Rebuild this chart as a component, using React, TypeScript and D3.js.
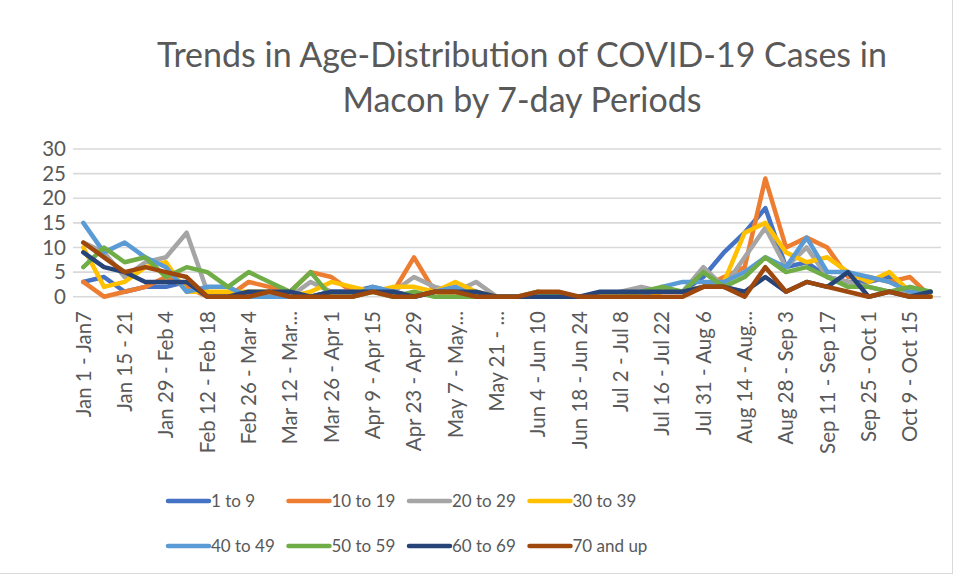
import React from "react";
import * as d3 from "d3";

// weekly periods (every other one is labelled on the axis)
const periods = [
  "Jan 1 - Jan7", "Jan 8 - 14", "Jan 15 - 21", "Jan 22 - 28", "Jan 29 - Feb 4",
  "Feb 5 - Feb 11", "Feb 12 - Feb 18", "Feb 19 - Feb 25", "Feb 26 - Mar 4", "Mar 5 - Mar 11",
  "Mar 12 - Mar...", "Mar 19 - Mar 25", "Mar 26 - Apr 1", "Apr 2 - Apr 8", "Apr 9 - Apr 15",
  "Apr 16 - Apr 22", "Apr 23 - Apr 29", "Apr 30 - May 6", "May 7 - May...", "May 14 - May 20",
  "May 21 - ...", "May 28 - Jun 3", "Jun 4 - Jun 10", "Jun 11 - Jun 17", "Jun 18 - Jun 24",
  "Jun 25 - Jul 1", "Jul 2 - Jul 8", "Jul 9 - Jul 15", "Jul 16 - Jul 22", "Jul 24 - Jul 30",
  "Jul 31 - Aug 6", "Aug 7 - Aug 13", "Aug 14 - Aug...", "Aug 21 - Aug 27", "Aug 28 - Sep 3",
  "Sep 4 - Sep 10", "Sep 11 - Sep 17", "Sep 18 - Sep 24", "Sep 25 - Oct 1", "Oct 2 - Oct 8",
  "Oct 9 - Oct 15", "Oct 16 - Oct 22",
];

const ages1to9 = [3, 4, 1, 2, 2, 3, 0, 0, 0, 1, 0, 0, 1, 1, 2, 1, 0, 1, 1, 0, 0, 0, 0, 0, 0, 0, 0, 1, 1, 1, 4, 9, 13, 18, 6, 7, 4, 3, 3, 4, 1, 1];
const ages10to19 = [3, 0, 1, 2, 4, 2, 0, 0, 3, 2, 1, 5, 4, 1, 1, 1, 8, 1, 0, 0, 0, 0, 0, 0, 0, 0, 0, 0, 1, 1, 2, 4, 6, 24, 10, 12, 10, 4, 4, 3, 4, 0];
const ages20to29 = [11, 9, 4, 7, 8, 13, 1, 0, 0, 0, 0, 3, 1, 0, 1, 1, 4, 2, 1, 3, 0, 0, 0, 0, 0, 0, 1, 2, 1, 1, 6, 2, 8, 14, 6, 10, 4, 3, 2, 1, 1, 0];
const ages30to39 = [10, 2, 3, 6, 7, 1, 1, 1, 1, 1, 0, 1, 3, 2, 1, 2, 2, 1, 3, 1, 0, 0, 0, 0, 0, 0, 0, 0, 1, 1, 2, 3, 13, 15, 9, 7, 8, 5, 3, 5, 1, 0];
const ages40to49 = [15, 9, 11, 8, 6, 1, 2, 2, 0, 0, 0, 0, 0, 0, 2, 1, 0, 1, 2, 0, 0, 0, 0, 0, 0, 0, 0, 0, 2, 3, 3, 3, 5, 8, 6, 12, 5, 5, 4, 3, 1, 1];
const ages50to59 = [6, 10, 7, 8, 4, 6, 5, 2, 5, 3, 1, 5, 0, 0, 1, 0, 1, 0, 0, 0, 0, 0, 1, 0, 0, 0, 0, 1, 2, 1, 5, 2, 4, 8, 5, 6, 4, 2, 2, 1, 2, 1];
const ages60to69 = [9, 6, 5, 3, 3, 3, 0, 0, 1, 1, 1, 0, 1, 1, 1, 1, 0, 1, 1, 1, 0, 0, 0, 0, 0, 1, 1, 1, 1, 1, 2, 2, 1, 4, 1, 3, 2, 5, 0, 1, 0, 1];
const ages70up = [11, 8, 5, 6, 5, 4, 0, 0, 0, 1, 0, 0, 0, 0, 1, 0, 0, 1, 1, 0, 0, 0, 1, 1, 0, 0, 0, 0, 0, 0, 2, 2, 0, 6, 1, 3, 2, 1, 0, 1, 0, 0];

const seriesNames = ["1 to 9", "10 to 19", "20 to 29", "30 to 39", "40 to 49", "50 to 59", "60 to 69", "70 and up"];
const seriesValues = [ages1to9, ages10to19, ages20to29, ages30to39, ages40to49, ages50to59, ages60to69, ages70up];
const colors = ["#4472C4", "#ED7D31", "#A5A5A5", "#FFC000", "#5B9BD5", "#70AD47", "#264478", "#9E480E"];

const yTicks = [0, 5, 10, 15, 20, 25, 30];
const titleLines = ["Trends in Age-Distribution of COVID-19 Cases in", "Macon by 7-day Periods"];

const W = 956;
const H = 576;
const plot = { left: 73, right: 941, top: 149, bottom: 296.7 };
const FONT = "Lato, 'Open Sans', sans-serif";
const TEXT = "#595959";

const App = () => {
  const x = d3.scaleBand<string>().domain(periods).range([plot.left, plot.right]);
  const cx = (i: number) => (x(periods[i]) as number) + x.bandwidth() / 2;
  const y = d3.scaleLinear().domain([0, 30]).range([plot.bottom, plot.top]);

  const line = d3
    .line<number>()
    .x((_, i) => cx(i))
    .y((d) => y(d));

  // legend: two rows of four
  const legendX = (k: number) => 168 + (k % 4) * 120.5;
  const legendY = (k: number) => (k < 4 ? 501 : 546);

  return (
    <svg
      width={W}
      height={H}
      style={{ position: "absolute", left: 0, top: 0, background: "#fff" }}
      fontFamily={FONT}
    >
      <rect x={0} y={0} width={W} height={H} fill="#fff" />
      <line x1={952.5} x2={952.5} y1={0} y2={574} stroke="#D9D9D9" />
      <line x1={0} x2={953} y1={573.5} y2={573.5} stroke="#D9D9D9" />

      {/* title */}
      {titleLines.map((t, i) => (
        <text key={t} x={522} y={67 + i * 45} textAnchor="middle" fontSize={34} fill={TEXT}>
          {t}
        </text>
      ))}

      {/* grid lines */}
      {yTicks.map((t) => (
        <line
          key={t}
          x1={plot.left}
          x2={plot.right}
          y1={y(t)}
          y2={y(t)}
          stroke="#D9D9D9"
          strokeWidth={1.6}
        />
      ))}

      {/* y labels */}
      {yTicks.map((t) => (
        <text key={"yl" + t} x={66} y={y(t)} dy="0.35em" textAnchor="end" fontSize={20.5} fill={TEXT}>
          {t}
        </text>
      ))}

      {/* x labels, every other period */}
      {periods.map((p, i) =>
        i % 2 === 0 ? (
          <text
            key={p}
            transform={`translate(${cx(i)},311) rotate(-90)`}
            dy="0.35em"
            textAnchor="end"
            fontSize={20.5}
            fill={TEXT}
          >
            {p}
          </text>
        ) : null
      )}

      {/* series */}
      {seriesValues.map((vals, k) => (
        <path
          key={seriesNames[k]}
          d={line(vals) || ""}
          fill="none"
          stroke={colors[k]}
          strokeWidth={4.5}
          strokeLinejoin="round"
          strokeLinecap="round"
        />
      ))}

      {/* legend */}
      {seriesNames.map((name, k) => (
        <g key={"lg" + name}>
          <line
            x1={legendX(k)}
            x2={legendX(k) + 41}
            y1={legendY(k)}
            y2={legendY(k)}
            stroke={colors[k]}
            strokeWidth={4.5}
            strokeLinecap="round"
          />
          <text x={legendX(k) + 43} y={legendY(k)} dy="0.35em" fontSize={17} fill={TEXT}>
            {name}
          </text>
        </g>
      ))}
    </svg>
  );
};

export default App;
